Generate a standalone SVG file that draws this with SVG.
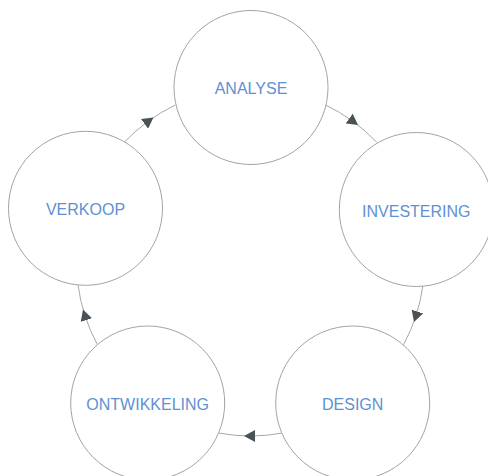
<svg xmlns="http://www.w3.org/2000/svg" width="488" height="476" viewBox="0 0 488 476">
  <style>
    .node circle { fill: #ffffff; stroke: #a3a3a3; stroke-width: 1; }
    .node text { font-family: "Liberation Sans", Arial, sans-serif; font-size: 16px; fill: #5e91d2; text-anchor: middle; }
    .link { fill: none; stroke: #a8a8a8; stroke-width: 1; marker-mid: url(#arrow); }
  </style>
  <defs>
    <marker id="arrow" viewBox="0 0 11 12" markerWidth="11" markerHeight="12" refX="4.5" refY="6" orient="auto" markerUnits="userSpaceOnUse">
      <path d="M0,0 L11,6 L0,12 z" fill="#4a5256"/>
    </marker>
  </defs>

  <rect width="488" height="476" fill="#ffffff"/>

  <!-- cycle connectors: arcs of one ring (centre 250.5,262, r 174), arrow at each midpoint -->
  <g id="connectors">
    <path class="link" d="M325.6,105.0 A174,174 0 0 1 352.8,121.2 A174,174 0 0 1 376.6,142.1"/>
    <path class="link" d="M423.0,284.9 A174,174 0 0 1 416.0,315.8 A174,174 0 0 1 403.5,344.8"/>
    <path class="link" d="M282.0,433.1 A174,174 0 0 1 250.5,436.0 A174,174 0 0 1 219.0,433.1"/>
    <path class="link" d="M97.5,344.8 A174,174 0 0 1 85.0,315.8 A174,174 0 0 1 78.0,284.9"/>
    <path class="link" d="M124.4,142.1 A174,174 0 0 1 148.2,121.2 A174,174 0 0 1 175.4,105.0"/>
  </g>

  <g id="analyse" class="node">
    <circle cx="251" cy="87.5" r="77"/>
    <text x="251" y="94">ANALYSE</text>
  </g>
  <g id="investering" class="node">
    <circle cx="416.3" cy="209.5" r="77"/>
    <text x="416.3" y="216.5">INVESTERING</text>
  </g>
  <g id="design" class="node">
    <circle cx="352.7" cy="403" r="77"/>
    <text x="352.7" y="410">DESIGN</text>
  </g>
  <g id="ontwikkeling" class="node">
    <circle cx="147.7" cy="403" r="77"/>
    <text x="147.7" y="410">ONTWIKKELING</text>
  </g>
  <g id="verkoop" class="node">
    <circle cx="85.5" cy="208.3" r="77"/>
    <text x="85.5" y="215">VERKOOP</text>
  </g>
</svg>
